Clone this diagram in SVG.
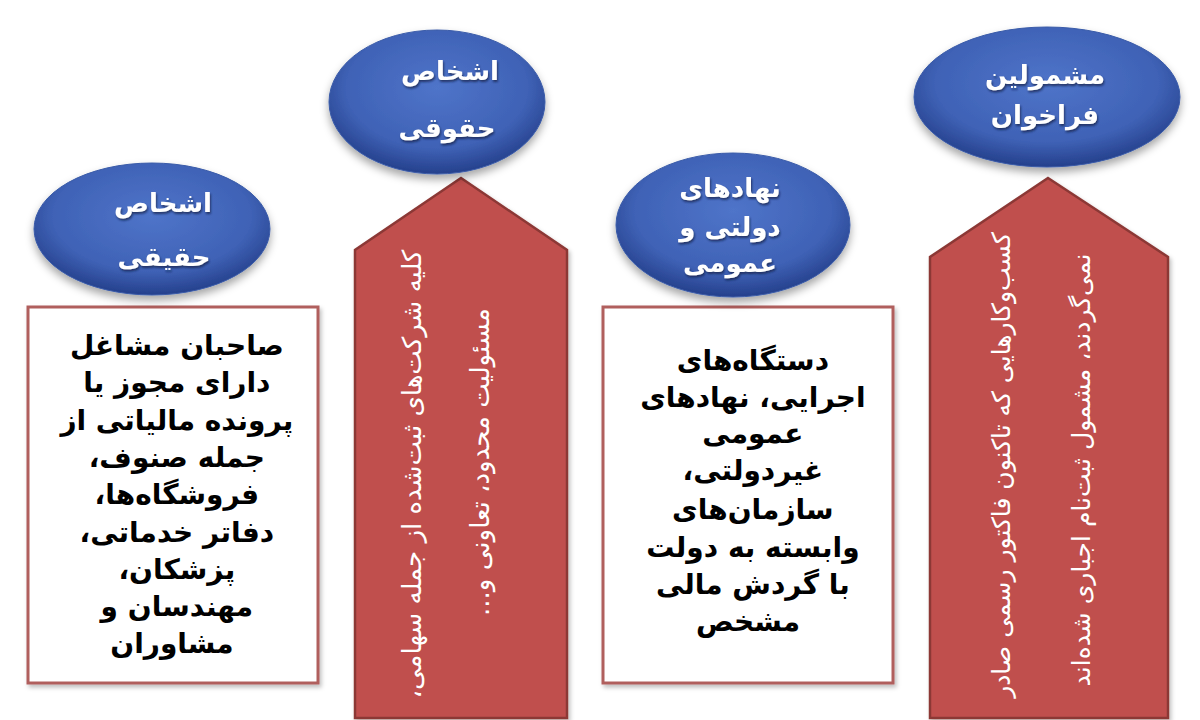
<svg xmlns="http://www.w3.org/2000/svg" width="1200" height="720" viewBox="0 0 1200 720">
  <defs>
    <radialGradient id="blueG" cx="0.5" cy="0.4" r="0.6">
      <stop offset="0" stop-color="#4F74C9"/>
      <stop offset="0.7" stop-color="#3F62B6"/>
      <stop offset="1" stop-color="#25408C"/>
    </radialGradient>
    <filter id="sh" x="-20%" y="-20%" width="140%" height="150%">
      <feDropShadow dx="0" dy="5" stdDeviation="4" flood-color="#000" flood-opacity="0.35"/>
    </filter>
    <filter id="bsh" x="-10%" y="-10%" width="120%" height="120%">
      <feDropShadow dx="2" dy="3" stdDeviation="2" flood-color="#000" flood-opacity="0.25"/>
    </filter>
    <filter id="tsh" x="-10%" y="-20%" width="120%" height="150%">
      <feDropShadow dx="1" dy="2" stdDeviation="1" flood-color="#0A1A40" flood-opacity="0.7"/>
    </filter>
    <style>
      .oval { fill: url(#blueG); stroke: #3A5BA8; stroke-width: 1; filter: url(#sh); }
      .otxt { font-family: 'DejaVu Sans', sans-serif; font-weight: bold; font-size: 26px; fill: #FFFFFF; text-anchor: middle; filter: url(#tsh); }
      .box { fill: #FFFFFF; stroke: #B05F5D; stroke-width: 3; filter: url(#bsh); }
      .btxt { font-family: 'DejaVu Sans', sans-serif; font-weight: bold; font-size: 28px; fill: #000000; text-anchor: middle; }
      .arrow { fill: #C0504D; stroke: #8C3836; stroke-width: 2.5; filter: url(#bsh); }
      .atxt { font-family: 'DejaVu Sans', sans-serif; font-size: 26px; fill: #FFFFFF; text-anchor: middle; }
      .atxt2 { font-size: 25px; }
    </style>
  </defs>
  <rect width="1200" height="720" fill="#FFFFFF"/>

  <!-- Column 1: natural persons -->
  <g id="box-haghighi">
    <rect class="box" x="28" y="307" width="290" height="376"/>
    <text class="btxt" direction="rtl" x="172">
      <tspan x="172" y="355">صاحبان مشاغل</tspan>
      <tspan x="172" y="392">دارای مجوز یا</tspan>
      <tspan x="172" y="430">پرونده مالیاتی از</tspan>
      <tspan x="172" y="467">جمله صنوف،</tspan>
      <tspan x="172" y="504">فروشگاه‌ها،</tspan>
      <tspan x="172" y="542">دفاتر خدماتی،</tspan>
      <tspan x="172" y="579">پزشکان،</tspan>
      <tspan x="172" y="616">مهندسان و</tspan>
      <tspan x="172" y="653">مشاوران</tspan>
    </text>
  </g>
  <g id="oval-haghighi">
    <ellipse class="oval" cx="152" cy="229" rx="118" ry="66"/>
    <text class="otxt" direction="rtl" x="163" y="212">اشخاص</text>
    <text class="otxt" direction="rtl" x="164" y="266">حقیقی</text>
  </g>

  <!-- Column 2: legal persons -->
  <g id="arrow-hoghooghi">
    <polygon class="arrow" points="461,178 567,250 567,718 355,718 355,250"/>
    <text class="atxt" direction="rtl" transform="translate(421,474) rotate(-90)" x="0" y="0">کلیه شرکت‌های ثبت‌شده از جمله سهامی،</text>
    <text class="atxt" direction="rtl" transform="translate(489,462) rotate(-90)" x="0" y="0">مسئولیت محدود، تعاونی و...</text>
  </g>
  <g id="oval-hoghooghi">
    <ellipse class="oval" cx="437" cy="102" rx="108" ry="72"/>
    <text class="otxt" direction="rtl" x="450" y="80">اشخاص</text>
    <text class="otxt" direction="rtl" x="447" y="137">حقوقی</text>
  </g>

  <!-- Column 3: governmental and public bodies -->
  <g id="box-dolati">
    <rect class="box" x="603" y="307" width="290" height="376"/>
    <text class="btxt" direction="rtl" x="748">
      <tspan x="748" y="370">دستگاه‌های</tspan>
      <tspan x="748" y="407">اجرایی، نهادهای</tspan>
      <tspan x="748" y="443">عمومی</tspan>
      <tspan x="748" y="480">غیردولتی،</tspan>
      <tspan x="748" y="519">سازمان‌های</tspan>
      <tspan x="748" y="557">وابسته به دولت</tspan>
      <tspan x="748" y="594">با گردش مالی</tspan>
      <tspan x="748" y="631">مشخص</tspan>
    </text>
  </g>
  <g id="oval-dolati">
    <ellipse class="oval" cx="733" cy="225" rx="117" ry="72"/>
    <text class="otxt" direction="rtl" x="730" y="197">نهادهای</text>
    <text class="otxt" direction="rtl" x="730" y="236">دولتی و</text>
    <text class="otxt" direction="rtl" x="730" y="272">عمومی</text>
  </g>

  <!-- Column 4: those covered by the call -->
  <g id="arrow-mashmoolin">
    <polygon class="arrow" points="1048,178 1168,257 1168,718 930,718 930,257"/>
    <text class="atxt atxt2" direction="rtl" transform="translate(1010,465) rotate(-90)" x="0" y="0">کسب‌وکارهایی که تاکنون فاکتور رسمی صادر</text>
    <text class="atxt atxt2" direction="rtl" transform="translate(1090,470) rotate(-90)" x="0" y="0">نمی‌گردند، مشمول ثبت‌نام اجباری شده‌اند</text>
  </g>
  <g id="oval-mashmoolin">
    <ellipse class="oval" cx="1047" cy="97" rx="133" ry="70"/>
    <text class="otxt" direction="rtl" x="1045" y="84">مشمولین</text>
    <text class="otxt" direction="rtl" x="1045" y="124">فراخوان</text>
  </g>
</svg>
